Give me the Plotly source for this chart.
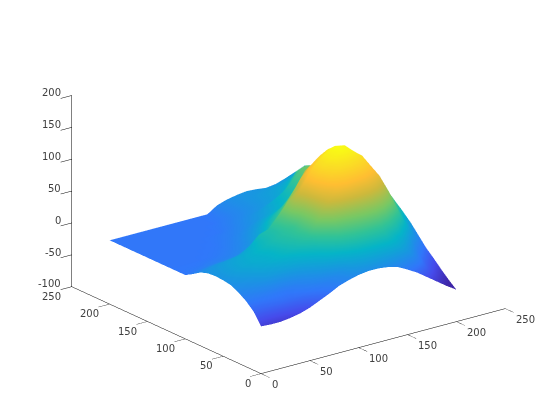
import plotly.graph_objects as go

x_values = list(range(0, 201, 10))
y_values = list(range(0, 201, 10))
z_y000 = [-26,-27,-27,-25,-22,-17,-10,-3,5,10,14,16,16,14,10,2,-7,-18,-29,-40,-50]
z_y010 = [-8,-8,-6,-4,-4,-2,2,6,10,17,30,36,38,38,38,32,20,3,-14,-28,-40]
z_y020 = [3,3,4,3,2,6,14,24,34,44,54,60,62,62,60,48,36,18,-2,-16,-29]
z_y030 = [11,14,18,24,26,29,33,40,48,62,78,82,86,88,86,78,60,38,14,-3,-17]
z_y040 = [17,22,26,32,36,41,46,52,62,85,108,122,125,122,118,108,92,68,38,14,-6]
z_y050 = [19,26,32,36,38,42,50,56,66,85,118,138,148,148,142,133,118,88,55,28,8]
z_y060 = [20,26,31,35,40,46,52,58,64,88,125,148,158,162,160,148,126,100,72,48,22]
z_y070 = [19,24,28,32,36,43,50,56,70,100,125,145,158,166,163,148,125,106,85,57,30]
z_y080 = [15,19,22,24,27,36,50,55,72,92,105,128,143,155,152,140,127,110,88,60,36]
z_y090 = [7,10,13,14,15,18,24,35,52,66,85,112,128,140,145,146,130,112,92,62,38]
z_y100 = [0,3,5,7,8,10,15,24,38,52,65,85,105,122,132,137,128,115,94,66,40]
z_y110 = [0,1,1,3,4,6,10,16,27,40,50,62,82,105,115,125,122,110,90,64,42]
z_y120 = [0,0,0,0,1,3,6,11,19,28,38,45,55,70,98,109,110,98,82,63,43]
z_y130 = [0,0,0,0,0,1,3,7,13,20,28,34,40,48,62,88,98,90,78,62,44]
z_y140 = [0,0,0,0,0,0,1,4,8,13,19,26,34,42,52,70,82,82,72,60,45]
z_y150 = [0,0,0,0,0,0,0,2,5,9,15,21,28,38,48,65,78,76,68,58,45]
z_y160 = [0,0,0,0,0,0,0,0,1,5,11,16,20,25,30,38,65,70,65,56,44]
z_y170 = [0,0,0,0,0,0,0,0,0,3,7,12,17,22,27,32,40,55,58,52,42]
z_y180 = [0,0,0,0,0,0,0,0,0,0,4,10,16,21,25,28,32,38,45,46,40]
z_y190 = [0,0,0,0,0,0,0,0,0,0,3,10,16,20,22,24,25,28,33,38,38]
z_y200 = [0,0,0,0,0,0,0,0,0,0,0,10,15,18,20,19,17,19,24,30,36]
z_rows = [z_y000, z_y010, z_y020, z_y030, z_y040, z_y050, z_y060, z_y070, z_y080, z_y090, z_y100,
          z_y110, z_y120, z_y130, z_y140, z_y150, z_y160, z_y170, z_y180, z_y190, z_y200]
axis_ticks_xy = [0, 50, 100, 150, 200, 250]
axis_ticks_z = [-100, -50, 0, 50, 100, 150, 200]

parula = [[0, "rgb(62,38,168)"], [0.1, "rgb(70,75,235)"], [0.2, "rgb(48,120,250)"], [0.3, "rgb(25,150,225)"],
          [0.4, "rgb(5,180,200)"], [0.5, "rgb(50,195,150)"], [0.6, "rgb(120,200,100)"],
          [0.72, "rgb(205,185,60)"], [0.82, "rgb(255,190,50)"], [0.93, "rgb(250,225,35)"], [1, "rgb(249,251,21)"]]

def axis(rng, ticks, ticklen):
    return dict(range=rng, tickvals=ticks, showticklabels=False, title=dict(text=""),
                showgrid=False, zeroline=False, showbackground=False, showspikes=False,
                showline=True, linecolor="#000000", linewidth=1, ticks="outside", ticklen=ticklen,
                tickcolor="#000000", tickwidth=1)

def label(x, y, z, text, xanchor, xshift, yshift):
    return dict(x=x, y=y, z=z, text=text, showarrow=False, xanchor=xanchor, yanchor="middle",
                xshift=xshift, yshift=yshift, font=dict(family="DejaVu Sans", size=10, color="#404040"))

labels = ([label(t, 0, -100, str(t), "left", 9, -11) for t in axis_ticks_xy]
          + [label(0, t, -100, str(t), "right", -8, -10) for t in axis_ticks_xy]
          + [label(0, 250, t, str(t), "right", -8, 2.5) for t in axis_ticks_z])

fig = go.Figure(go.Surface(x=x_values, y=y_values, z=z_rows, colorscale=parula, cmin=-41, cmax=165,
                           showscale=False, hoverinfo="skip",
                           lighting=dict(ambient=1, diffuse=0, specular=0, fresnel=0, roughness=1)))
k = 1.052
s = 1.49
c = -0.062
fig.update_layout(width=560, height=420, margin=dict(l=0, r=0, t=0, b=0), paper_bgcolor="white",
                  showlegend=False,
                  scene=dict(domain=dict(x=[0.01, 0.99], y=[0.02, 1]),
                             xaxis=axis([0, 250], axis_ticks_xy, 14), yaxis=axis([0, 250], axis_ticks_xy, 14),
                             zaxis=axis([-100, 200], axis_ticks_z, 9), annotations=labels,
                             aspectmode="manual", aspectratio=dict(x=1 * s, y=1.018 * s, z=0.665 * s),
                             camera=dict(projection=dict(type="orthographic"),
                                         center=dict(x=0, y=0, z=c), up=dict(x=0, y=0, z=1),
                                         eye=dict(x=-0.568 * k, y=-0.746 * k, z=0.350 * k + c))))
fig.write_html("out.html", config=dict(displayModeBar=False))
